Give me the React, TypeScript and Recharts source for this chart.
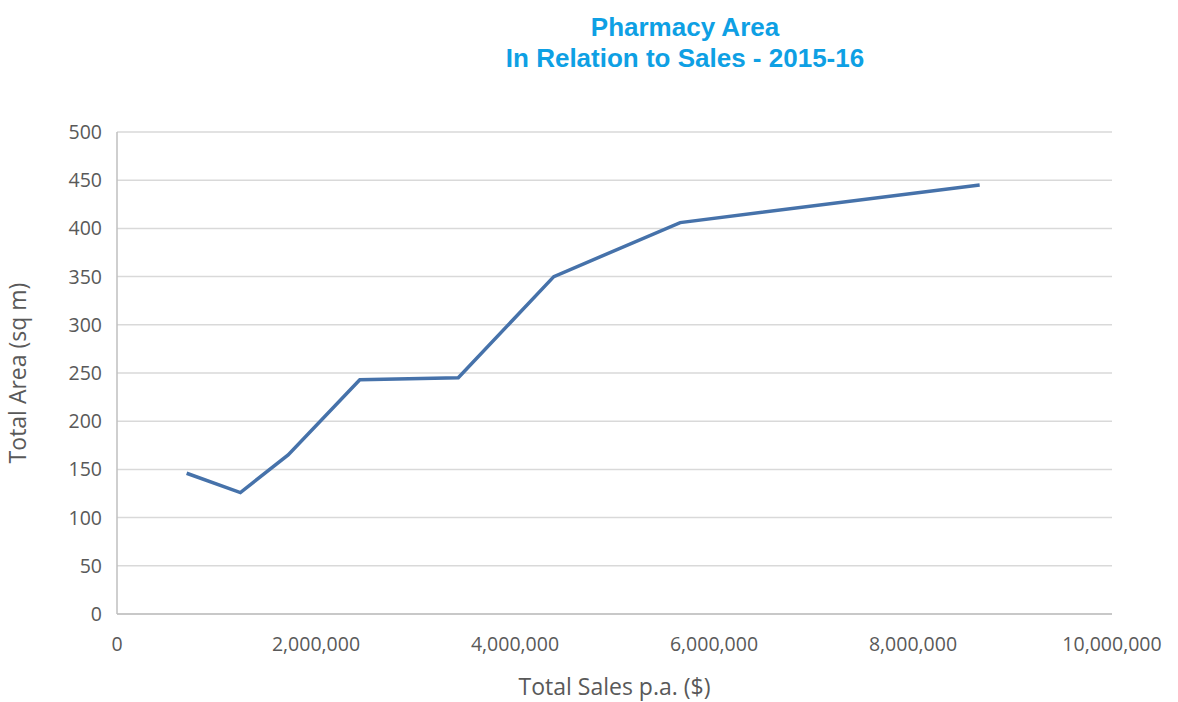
import { LineChart, Line, XAxis, YAxis, CartesianGrid, Label } from "recharts";

const sales = [700000, 1240000, 1720000, 2440000, 3430000, 4390000, 5660000, 8670000];
const area = [146, 126, 165, 243, 245, 350, 406, 445];
const xTicks = [0, 2000000, 4000000, 6000000, 8000000, 10000000];
const yTicks = [0, 50, 100, 150, 200, 250, 300, 350, 400, 450, 500];

const data = sales.map((s, i) => ({ sales: s, area: area[i] }));

const tickStyle = { fill: "#595959", fontSize: 19.5, fontFamily: "'Open Sans', sans-serif" };
const labelStyle = { fill: "#595959", fontSize: 23, fontFamily: "'Open Sans', sans-serif" };

export default function App() {
  return (
    <div style={{ position: "absolute", left: 0, top: 0, width: 1178, height: 702, background: "#fff" }}>
      <div
        style={{
          position: "absolute",
          left: 385,
          width: 600,
          top: 12,
          textAlign: "center",
          color: "#0ea0e4",
          fontFamily: "'Liberation Sans', Arial, sans-serif",
          fontWeight: "bold",
          fontSize: 26,
          lineHeight: "31px",
        }}
      >
        <div>Pharmacy Area</div>
        <div>In Relation to Sales - 2015-16</div>
      </div>
      <LineChart width={1178} height={702} data={data} margin={{ top: 132, right: 66, bottom: 0, left: 0 }}>
        <CartesianGrid stroke="#d9d9d9" strokeWidth={1.5} vertical={false} />
        <XAxis
          dataKey="sales"
          type="number"
          domain={[0, 10000000]}
          ticks={xTicks}
          tickFormatter={(v: number) => v.toLocaleString("en-US")}
          tick={tickStyle}
          tickLine={false}
          tickSize={0}
          tickMargin={23}
          height={88}
          axisLine={{ stroke: "#bfbfbf", strokeWidth: 1.5 }}
        >
          <Label value="Total Sales p.a. ($)" position="insideBottom" offset={7} style={labelStyle} />
        </XAxis>
        <YAxis
          type="number"
          domain={[0, 500]}
          ticks={yTicks}
          tick={tickStyle}
          tickLine={false}
          tickSize={0}
          tickMargin={15}
          width={117}
          axisLine={{ stroke: "#bfbfbf", strokeWidth: 1.5 }}
        >
          <Label
            value="Total Area (sq m)"
            angle={-90}
            position="insideLeft"
            offset={18}
            style={{ ...labelStyle, textAnchor: "middle" }}
          />
        </YAxis>
        <Line
          type="linear"
          dataKey="area"
          stroke="#4672aa"
          strokeWidth={3.5}
          dot={false}
          isAnimationActive={false}
        />
      </LineChart>
    </div>
  );
}
